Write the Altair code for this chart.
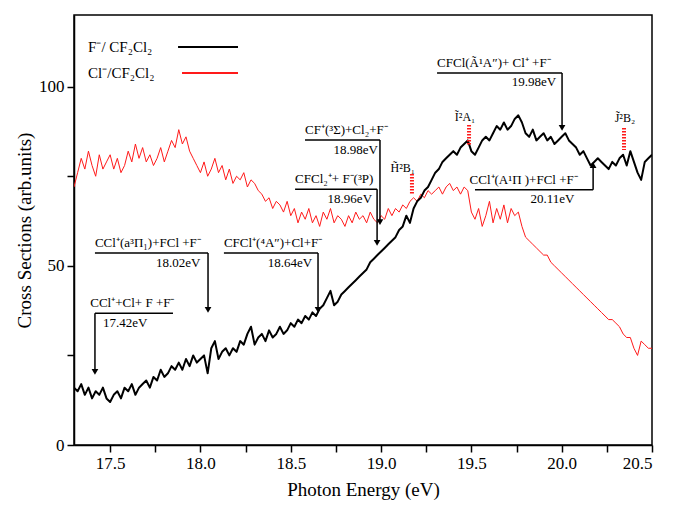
import altair as alt
import pandas as pd

# ---------------- data ----------------
energy = [round(17.30 + 0.02 * i, 2) for i in range(161)]

f_minus = [16, 15, 17, 14, 16, 13, 15, 14, 16, 13,
           12, 14, 15, 13, 16, 15, 17, 14, 16, 17,
           18, 16, 19, 18, 21, 19, 20, 22, 21, 23,
           21, 24, 22, 25, 23, 24, 25, 20, 27, 29,
           24, 26, 27, 25, 27, 26, 29, 28, 31, 33,
           28, 30, 31, 29, 32, 30, 31, 33, 31, 32,
           34, 33, 35, 34, 36, 35, 37, 36, 38, 39,
           41, 43, 39, 40, 42, 43, 44, 45, 46, 47,
           48, 49, 51, 52, 53, 54, 55, 56, 57, 58,
           60, 61, 64, 62, 66, 68, 69, 71, 72, 74,
           76, 77, 79, 80, 81, 82, 81, 83, 84, 85,
           82, 81, 83, 85, 86, 85, 87, 89, 88, 90,
           88, 89, 91, 92, 90, 87, 86, 88, 85, 86,
           87, 85, 86, 84, 85, 86, 87, 85, 84, 83,
           81, 82, 80, 78, 79, 80, 79, 78, 77, 79,
           78, 80, 81, 78, 82, 79, 76, 74, 79, 80,
           81]

cl_minus = [72, 76, 80, 77, 82, 78, 75, 81, 77, 79,
            81, 77, 80, 76, 78, 82, 79, 84, 80, 83,
            79, 81, 78, 80, 83, 79, 82, 85, 83, 88,
            84, 86, 82, 80, 78, 76, 79, 75, 77, 80,
            76, 78, 74, 77, 73, 75, 74, 76, 72, 74,
            73, 71, 70, 68, 69, 66, 68, 67, 65, 68,
            64, 66, 62, 65, 63, 66, 62, 64, 61, 65,
            63, 66, 62, 64, 63, 61, 64, 62, 65, 63,
            64, 62, 65, 63, 62, 64, 63, 66, 64, 66,
            65, 67, 66, 68, 69, 68, 70, 69, 71, 70,
            71, 72, 70, 72, 73, 71, 72, 70, 72, 71,
            65, 63, 66, 61, 64, 68, 62, 66, 63, 67,
            62, 66, 64, 65, 61, 58, 57, 56, 55, 54,
            53, 53, 51, 50, 49, 48, 47, 46, 45, 44,
            43, 42, 41, 40, 39, 38, 37, 36, 35, 35,
            34, 33, 31, 30, 30, 27, 25, 29, 28, 27,
            27]

x_ticks = [17.5, 17.75, 18.0, 18.25, 18.5, 18.75, 19.0, 19.25, 19.5, 19.75, 20.0, 20.25, 20.5]
y_ticks = [0, 25, 50, 75, 100]

# annotation leader lines (horizontal under label, then vertical to arrow tip)
ann_h_x1 = [17.416, 17.416, 18.130, 18.524, 18.579, 19.310, 19.520]
ann_h_x2 = [17.848, 18.042, 18.651, 18.978, 18.994, 20.002, 20.174]
ann_h_y = [36.8, 53.6, 53.6, 71.4, 85.1, 103.8, 71.2]
ann_v_x = [17.416, 18.042, 18.651, 18.978, 18.994, 20.002, 20.174]
ann_tip_y = [20.4, 37.7, 37.7, 56.4, 62.2, 88.5, 78.1]
ann_dir = ["triangle-down"] * 6 + ["triangle-up"]

proc_labels = ["CCl⁺+Cl+ F +F⁻", "CCl⁺(a³Π₁)+FCl +F⁻", "CFCl⁺(⁴A″)+Cl+F⁻",
               "CFCl₂⁺+ F⁻(³P)", "CF⁺(³Σ)+Cl₂+F⁻", "CFCl(Ã¹A″)+ Cl⁺ +F⁻",
               "CCl⁺(A¹Π )+FCl +F⁻"]
proc_lab_x = [17.39, 17.416, 18.13, 18.524, 18.579, 19.31, 19.49]
proc_lab_y = [37.6, 54.4, 54.4, 72.2, 85.9, 104.6, 72.0]

ev_labels = ["17.42eV", "18.02eV", "18.64eV", "18.96eV", "18.98eV", "19.98eV", "20.11eV"]
ev_lab_x = [17.46, 18.00, 18.618, 18.95, 18.983, 19.97, 20.07]
ev_lab_y = [35.6, 52.6, 52.6, 70.4, 84.1, 103.0, 70.4]
ev_align = ["left", "right", "right", "right", "right", "right", "right"]

state_labels = ["H̃²B₁", "Ĩ²A₁", "J̃²B₂"]
state_x = [19.171, 19.487, 20.345]
state_y1 = [75.6, 89.3, 88.5]
state_y2 = [70.1, 83.7, 82.3]
state_lab_x = [19.12, 19.465, 20.35]
state_lab_y = [77.3, 91.5, 91.3]

legend_names = ["F⁻/ CF₂Cl₂", "Cl⁻/CF₂Cl₂"]
legend_colors = ["#000000", "#ff1a1a"]
legend_text_x = [17.378, 17.378]
legend_y = [111.1, 103.8]
legend_line_x1 = [17.876, 17.898]
legend_line_x2 = [18.208, 18.208]

# ---------------- frames ----------------
curves = pd.DataFrame({
    "E": energy * 2,
    "v": f_minus + cl_minus,
    "s": ["F"] * len(energy) + ["Cl"] * len(energy),
})
hseg = pd.DataFrame({"x1": ann_h_x1, "x2": ann_h_x2, "y": ann_h_y})
vseg = pd.DataFrame({"x": ann_v_x, "y1": ann_h_y, "y2": ann_tip_y, "shape": ann_dir})
plab = pd.DataFrame({"x": proc_lab_x, "y": proc_lab_y, "t": proc_labels})
elab = pd.DataFrame({"x": ev_lab_x, "y": ev_lab_y, "t": ev_labels, "a": ev_align})
st = pd.DataFrame({"x": state_x, "y1": state_y1, "y2": state_y2,
                   "lx": state_lab_x, "ly": state_lab_y, "t": state_labels})
leg = pd.DataFrame({"t": legend_names, "c": legend_colors, "tx": legend_text_x,
                    "y": legend_y, "x1": legend_line_x1, "x2": legend_line_x2})

FONT = "Liberation Serif"
xs = alt.Scale(domain=[17.3, 20.5], nice=False, zero=False)
ys = alt.Scale(domain=[0, 120], nice=False)

xaxis = alt.Axis(values=x_ticks, title="Photon Energy (eV)",
                 labelExpr="(datum.value * 2) % 1 == 0 ? format(datum.value, '.1f') : ''",
                 grid=False, tickSize=7, tickWidth=1.5, tickColor="black",
                 domainColor="black", domainWidth=1.5, labelFontSize=17, titleFontSize=19,
                 labelFont=FONT, titleFont=FONT, titleFontWeight="normal",
                 labelColor="black", titleColor="black", labelPadding=3, titlePadding=9)
yaxis = alt.Axis(values=y_ticks, title="Cross Sections (arb.units)",
                 labelExpr="datum.value % 50 == 0 ? datum.label : ''",
                 grid=False, tickSize=7, tickWidth=1.5, tickColor="black",
                 domainColor="black", domainWidth=1.5, labelFontSize=17, titleFontSize=19,
                 labelFont=FONT, titleFont=FONT, titleFontWeight="normal",
                 labelColor="black", titleColor="black", labelPadding=3, titlePadding=4)

red = alt.Chart(curves).transform_filter("datum.s == 'Cl'").mark_line(
    color="#ff1a1a", strokeWidth=1, clip=True).encode(
    x=alt.X("E:Q", scale=xs, axis=xaxis),
    y=alt.Y("v:Q", scale=ys, axis=yaxis),
)
black = alt.Chart(curves).transform_filter("datum.s == 'F'").mark_line(
    color="black", strokeWidth=2, clip=True, strokeJoin="round").encode(
    x=alt.X("E:Q", scale=xs), y=alt.Y("v:Q", scale=ys))

hl = alt.Chart(hseg).mark_rule(color="black", strokeWidth=1.5).encode(
    x=alt.X("x1:Q", scale=xs), x2="x2:Q", y=alt.Y("y:Q", scale=ys))
vl = alt.Chart(vseg).mark_rule(color="black", strokeWidth=1.5).encode(
    x=alt.X("x:Q", scale=xs), y=alt.Y("y1:Q", scale=ys), y2="y2:Q")
heads = alt.Chart(vseg).mark_point(filled=True, color="black", size=45, opacity=1).encode(
    x=alt.X("x:Q", scale=xs), y=alt.Y("y2:Q", scale=ys),
    shape=alt.Shape("shape:N", scale=None, legend=None))

ptext = alt.Chart(plab).mark_text(font=FONT, fontSize=13, align="left",
                                  baseline="bottom", color="black").encode(
    x=alt.X("x:Q", scale=xs), y=alt.Y("y:Q", scale=ys), text="t:N")
etext_l = alt.Chart(elab).transform_filter("datum.a == 'left'").mark_text(
    font=FONT, fontSize=13, align="left", baseline="top", color="black").encode(
    x=alt.X("x:Q", scale=xs), y=alt.Y("y:Q", scale=ys), text="t:N")
etext_r = alt.Chart(elab).transform_filter("datum.a == 'right'").mark_text(
    font=FONT, fontSize=13, align="right", baseline="top", color="black").encode(
    x=alt.X("x:Q", scale=xs), y=alt.Y("y:Q", scale=ys), text="t:N")

hatch = alt.Chart(st).mark_rule(color="#ff1a1a", strokeWidth=4, strokeDash=[1.5, 1.5]).encode(
    x=alt.X("x:Q", scale=xs), y=alt.Y("y1:Q", scale=ys), y2="y2:Q")
stext = alt.Chart(st).mark_text(font=FONT, fontSize=12, align="center",
                                baseline="middle", color="black").encode(
    x=alt.X("lx:Q", scale=xs), y=alt.Y("ly:Q", scale=ys), text="t:N")

legtext = alt.Chart(leg).mark_text(font=FONT, fontSize=15, align="left",
                                   baseline="middle", color="black").encode(
    x=alt.X("tx:Q", scale=xs), y=alt.Y("y:Q", scale=ys), text="t:N")
legline = alt.Chart(leg).mark_rule(strokeWidth=2).encode(
    x=alt.X("x1:Q", scale=xs), x2="x2:Q", y=alt.Y("y:Q", scale=ys),
    color=alt.Color("c:N", scale=None, legend=None))

chart = alt.layer(red, black, hl, vl, heads, ptext, etext_l, etext_r,
                  hatch, stext, legtext, legline).properties(
    width=578, height=430,
    autosize=alt.AutoSizeParams(type="none"),
    padding={"left": 66, "top": 7, "right": 13, "bottom": 62},
    background="white",
).configure_view(stroke="black", strokeWidth=1.5)

chart.save("out.html", embed_options={"renderer": "svg", "actions": False})
